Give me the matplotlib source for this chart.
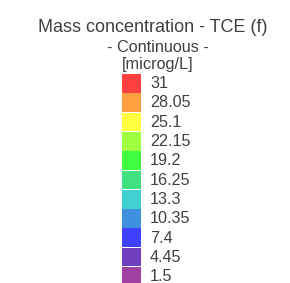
import matplotlib.pyplot as plt
from matplotlib.patches import Rectangle

plt.rcParams['font.family'] = ['Liberation Sans', 'DejaVu Sans']

# legend entries, top to bottom
levels = ['31', '28.05', '25.1', '22.15', '19.2', '16.25', '13.3', '10.35', '7.4', '4.45', '1.5']
colors = ['#ff4040', '#ffa040', '#ffff40', '#a0ff40', '#40ff40', '#40e080',
          '#40d0d0', '#4090e0', '#4040ff', '#7040c0', '#a040a0']
title_lines = ['Mass concentration - TCE (f)', '- Continuous -', '[microg/L]']

fig = plt.figure(figsize=(2.9, 2.83), dpi=100)
ax = fig.add_axes([0, 0, 1, 1])
ax.set_xlim(0, 290)
ax.set_ylim(283, 0)
ax.axis('off')

txt = '#404040'
ax.text(153, 27, title_lines[0], ha='center', va='center', fontsize=13, color=txt)
ax.text(158, 47, title_lines[1], ha='center', va='center', fontsize=11.7, color=txt)
ax.text(158, 65, title_lines[2], ha='center', va='center', fontsize=11.7, color=txt)

y0 = 74
step = 19.3
for i, (lab, c) in enumerate(zip(levels, colors)):
    y = y0 + i * step
    ax.add_patch(Rectangle((122, y), 19, step - 0.6, facecolor=c, edgecolor='none'))
    ax.text(150, y + step / 2, lab, ha='left', va='center', fontsize=11.6, color=txt)

fig.savefig('out.png', dpi=100)
